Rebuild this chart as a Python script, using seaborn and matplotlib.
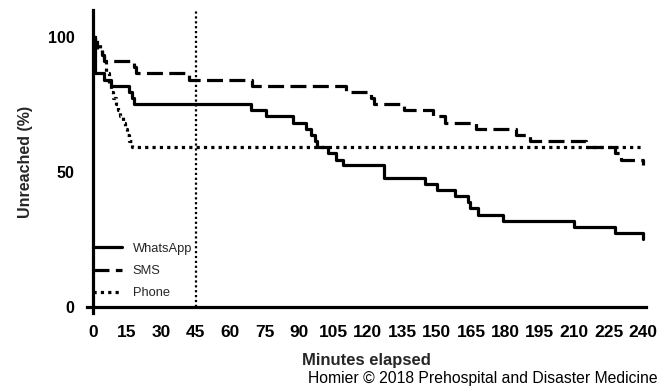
import matplotlib
matplotlib.use("Agg")
import matplotlib.pyplot as plt
import numpy as np
import pandas as pd
import seaborn as sns
from matplotlib.lines import Line2D

# ---- data ----
groups = ["WhatsApp", "SMS", "Phone"]

whatsapp_t = [0, 1, 5, 8, 16, 17, 18, 69, 75.5, 87.5, 93, 95, 97, 98,
              102.5, 106, 109, 127, 145, 150, 158, 163.7, 164.5, 168, 179,
              210, 227.7, 240]
whatsapp_v = [100, 86.4, 84.1, 81.8, 79.5, 77.3, 75.0, 72.7, 70.5, 68.2,
              65.9, 63.6, 61.4, 59.1, 56.8, 54.5, 52.3, 47.7, 45.5, 43.2,
              40.9, 38.6, 36.4, 34.1, 31.8, 29.5, 27.3, 25.0]

sms_t = [0, 1, 2, 4, 5, 18, 19, 42, 69.3, 110.7, 121.6, 122.5, 136, 148.5,
         153.6, 167.4, 184.8, 190.6, 215.3, 227.7, 230.6, 240]
sms_v = [100, 97.7, 95.5, 93.2, 90.9, 88.6, 86.4, 84.1, 81.8, 79.5, 77.3,
         75.0, 72.7, 70.5, 68.2, 65.9, 63.6, 61.4, 59.1, 56.8, 54.5, 52.3]

phone_t = [0, 2, 3, 4, 5, 6, 7, 8, 9, 10, 11, 12, 13, 14, 15, 16, 17, 240]
phone_v = [100, 97.7, 95.5, 93.2, 90.9, 86.4, 81.8, 79.5, 77.3, 75.0, 72.7,
           70.5, 68.2, 65.9, 63.6, 61.4, 59.1, 59.1]

x_ticks = list(range(0, 241, 15))
y_ticks = [0, 50, 100]
cutoff_minute = 45

x_label = "Minutes elapsed"
y_label = "Unreached (%)"
caption = "Homier \u00a9 2018 Prehospital and Disaster Medicine"

# ---- build table ----
df = pd.concat([
    pd.DataFrame({"Minutes": whatsapp_t, "Unreached": whatsapp_v, "Group": "WhatsApp"}),
    pd.DataFrame({"Minutes": sms_t, "Unreached": sms_v, "Group": "SMS"}),
    pd.DataFrame({"Minutes": phone_t, "Unreached": phone_v, "Group": "Phone"}),
], ignore_index=True)

sns.set_theme(style="white")
plt.rcParams["font.family"] = ["Liberation Sans", "DejaVu Sans"]

fig = plt.figure(figsize=(6.63, 3.91), dpi=100)
ax = fig.add_axes([0.1312, 0.1985, 0.8437, 0.7767])

LW = 2.3
dashes = {"WhatsApp": "", "SMS": (5, 2), "Phone": (1, 1.3)}
palette = {g: "black" for g in groups}

sns.lineplot(data=df, x="Minutes", y="Unreached", hue="Group", style="Group",
             hue_order=groups, style_order=groups, palette=palette,
             dashes=dashes, drawstyle="steps-post", estimator=None,
             sort=False, linewidth=LW, legend=False, ax=ax)

ax.axvline(cutoff_minute, ymin=(0 + 2.5) / 112.5, ymax=1, color="black",
           lw=1.6, ls=(0, (1, 1.2)))

ax.set_xlim(-2.5, 241.5)
ax.set_ylim(-2.5, 110)
ax.spines["left"].set_position(("data", 0))
ax.spines["bottom"].set_position(("data", 0))
for s in ["top", "right"]:
    ax.spines[s].set_visible(False)
for s in ["left", "bottom"]:
    ax.spines[s].set_linewidth(2.3)
    ax.spines[s].set_color("black")

ax.set_xticks(x_ticks)
ax.set_yticks(y_ticks)
ax.tick_params(axis="both", direction="out", length=5.5, width=2.3,
               color="black", labelcolor="black")
ax.tick_params(axis="x", labelsize=12.5, pad=7.5)
ax.tick_params(axis="y", labelsize=11.5, pad=7.5)
for lab in ax.get_xticklabels() + ax.get_yticklabels():
    lab.set_fontweight("bold")

ax.set_xlabel(x_label, fontsize=12, fontweight="bold", labelpad=9.5)
ax.set_ylabel(y_label, fontsize=11.5, fontweight="bold", labelpad=10.5)
ax.grid(False)

handles = [Line2D([], [], color="black", lw=LW, ls="-"),
           Line2D([], [], color="black", lw=LW, ls=(0, (5, 2))),
           Line2D([], [], color="black", lw=LW, ls=(0, (1, 1.3)))]
leg = ax.legend(handles, groups, loc="lower left",
                bbox_to_anchor=(0.011, 0.046), frameon=False, fontsize=9.3,
                handlelength=2.2, handletextpad=0.85, labelspacing=0.8,
                borderaxespad=0.0, borderpad=0.0)

fig.text(0.992, 0.012, caption, ha="right", va="bottom", fontsize=11.3,
         color="black")

fig.savefig("out.png", dpi=100)
